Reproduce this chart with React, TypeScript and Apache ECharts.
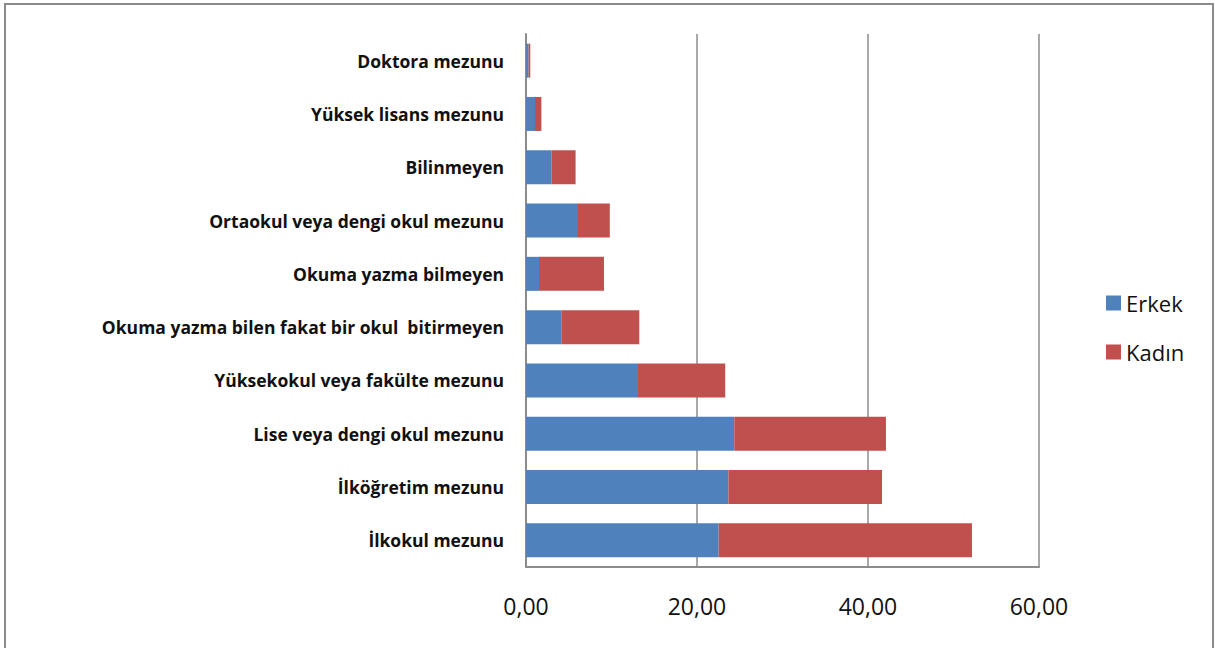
import React, { useEffect, useRef } from "react";
import * as echarts from "echarts";

const categories = [
  "Doktora mezunu",
  "Yüksek lisans mezunu",
  "Bilinmeyen",
  "Ortaokul veya dengi okul mezunu",
  "Okuma yazma bilmeyen",
  "Okuma yazma bilen fakat bir okul  bitirmeyen",
  "Yüksekokul veya fakülte mezunu",
  "Lise veya dengi okul mezunu",
  "İlköğretim mezunu",
  "İlkokul mezunu",
];
const erkek = [0.3, 1.05, 2.97, 5.97, 1.52, 4.13, 13.1, 24.36, 23.67, 22.53];
const kadin = [0.2, 0.75, 2.83, 3.83, 7.6, 9.12, 10.2, 17.74, 17.97, 29.63];
const xTicks = [0, 20, 40, 60];

export default function App() {
  const ref = useRef<HTMLDivElement>(null);
  useEffect(() => {
    if (!ref.current) return;
    const chart = echarts.init(ref.current, null, { renderer: "svg" });
    chart.setOption({
      animation: false,
      backgroundColor: "#ffffff",
      graphic: [
        {
          type: "rect",
          shape: { x: 5, y: 4, width: 1208, height: 700 },
          style: { fill: "none", stroke: "#8a8a8a", lineWidth: 2 },
          silent: true,
        },
      ],
      legend: {
        orient: "vertical",
        left: 1101,
        top: 287,
        itemWidth: 15,
        itemHeight: 15,
        itemGap: 27,
        icon: "rect",
        textStyle: {
          fontFamily: "Open Sans",
          fontSize: 22,
          lineHeight: 22,
          color: "#111",
        },
        data: ["Erkek", "Kadın"],
      },
      grid: { left: 526, right: 176, top: 34, bottom: 81, containLabel: false },
      xAxis: {
        type: "value",
        min: xTicks[0],
        max: xTicks[xTicks.length - 1],
        interval: 20,
        axisLine: { show: true, lineStyle: { color: "#8c8c8c", width: 2 } },
        axisTick: { show: false },
        splitLine: { show: true, lineStyle: { color: "#8c8c8c", width: 1.5 } },
        axisLabel: {
          margin: 27,
          fontFamily: "Open Sans",
          fontSize: 23,
          color: "#111",
          formatter: (v: number) => v.toFixed(2).replace(".", ","),
        },
      },
      yAxis: {
        type: "category",
        inverse: true,
        data: categories,
        axisLine: { show: true, lineStyle: { color: "#8c8c8c", width: 2 } },
        axisTick: { show: false },
        axisLabel: {
          margin: 22,
          fontFamily: "Open Sans",
          fontWeight: "bold",
          fontSize: 17.5,
          color: "#111",
        },
      },
      series: [
        {
          name: "Erkek",
          type: "bar",
          stack: "t",
          barWidth: 34,
          data: erkek,
          itemStyle: { color: "#4F81BD" },
        },
        {
          name: "Kadın",
          type: "bar",
          stack: "t",
          barWidth: 34,
          data: kadin,
          itemStyle: { color: "#C0504D" },
        },
      ],
    });
    return () => chart.dispose();
  }, []);
  return (
    <div
      ref={ref}
      style={{ position: "fixed", left: 0, top: 0, width: 1215, height: 648 }}
    />
  );
}
